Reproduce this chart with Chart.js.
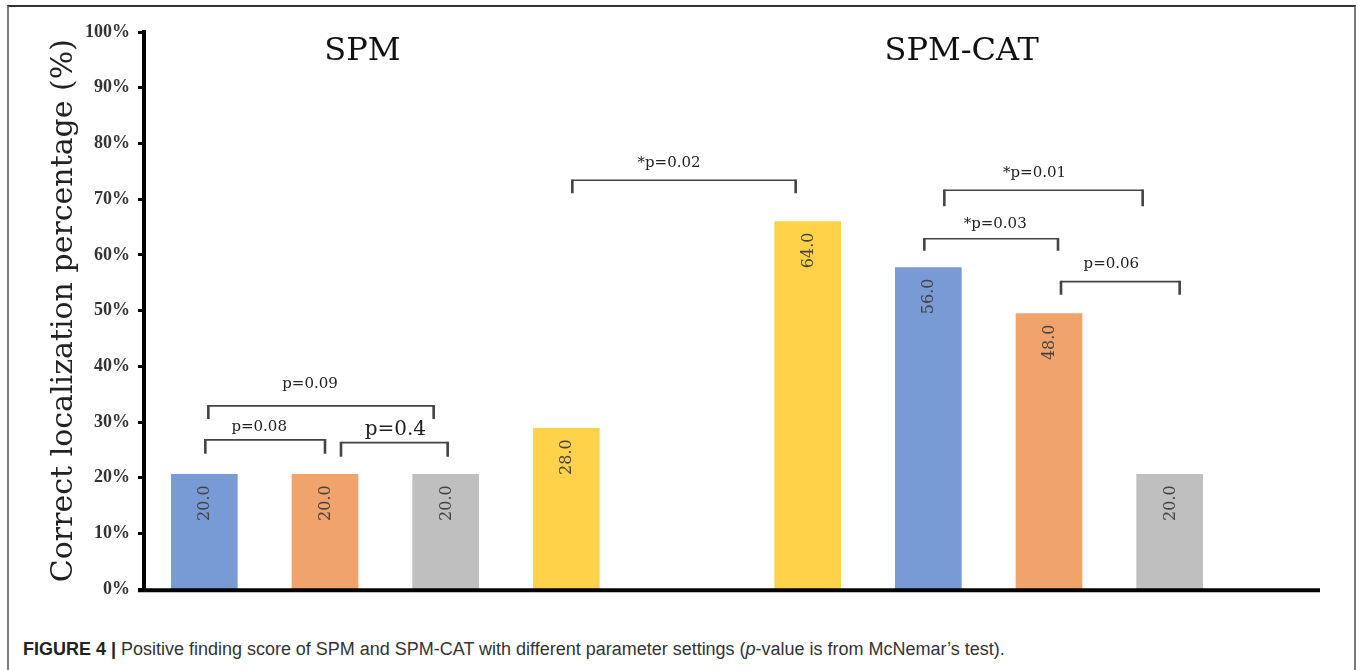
<!DOCTYPE html>
<html>
<head>
<meta charset="utf-8">
<script src="https://cdn.jsdelivr.net/npm/chart.js@4.4.1/dist/chart.umd.min.js"></script>
<style>
  html, body { margin: 0; padding: 0; background: #fff; width: 1357px; height: 670px; overflow: hidden; }
  #frame { position: absolute; left: 7px; top: 5px; width: 1345px; height: 720px; border: 2px solid #7a7a7a; border-top-color: #333; }
  #chart { position: absolute; left: 0; top: 0; }
  #caption { position: absolute; left: 23px; top: 639px; font: 18px 'Liberation Sans', Arial, sans-serif; color: #333; white-space: nowrap; transform-origin: 0 0; }
  #caption b { color: #222; }
</style>
</head>
<body>
<div id="frame"></div>
<canvas id="chart" width="1357" height="608"></canvas>
<div id="caption"><b>FIGURE 4 |</b> Positive finding score of SPM and SPM-CAT with different parameter settings (<i>p</i>-value is from McNemar’s test).</div>
<script>
// ---- data ----
// one slot per bar; the empty slot separates the SPM and SPM-CAT groups
const categories = ['SPM setting 1', 'SPM setting 2', 'SPM setting 3', 'SPM setting 4', '',
                    'SPM-CAT setting 4', 'SPM-CAT setting 1', 'SPM-CAT setting 2', 'SPM-CAT setting 3'];
const rates = [20.0, 20.0, 20.0, 28.0, null, 64.0, 56.0, 48.0, 20.0];
const yTicks = [0, 10, 20, 30, 40, 50, 60, 70, 80, 90, 100];
const groupTitles = ['SPM', 'SPM-CAT'];
const groupMembers = [[0, 1, 2, 3], [5, 6, 7, 8]];
const pairs = [[0, 1], [1, 2], [0, 2], [3, 5], [6, 8], [6, 7], [7, 8]];
const pValues = ['p=0.08', 'p=0.4', 'p=0.09', '*p=0.02', '*p=0.01', '*p=0.03', 'p=0.06'];

// ---- styling ----
const settingColors = { 1: '#789bd6', 2: '#f0a36b', 3: '#bfbfbf', 4: '#ffd24a' };
const barColors = [1, 2, 3, 4, 0, 4, 1, 2, 3].map(s => settingColors[s] || 'rgba(0,0,0,0)');
const groupTitleShift = [-23, -27];
// bracket geometry: height on the percent axis, end nudges, leg length, label rise/shift, font size
const bracketStyle = [
  { level: 26.8, dx: [1, 0],    drop: 14, rise: 13, tdx: -6,  size: 15 },
  { level: 26.3, dx: [16, 2],   drop: 14, rise: 13, tdx: 1,   size: 20 },
  { level: 32.9, dx: [4, -12],  drop: 13, rise: 22, tdx: -11, size: 15 },
  { level: 73.4, dx: [6, -12],  drop: 13, rise: 17, tdx: -15, size: 15 },
  { level: 71.6, dx: [16, -27], drop: 16, rise: 17, tdx: -9,  size: 15 },
  { level: 62.9, dx: [-4, 9],   drop: 12, rise: 15, tdx: 4,   size: 15 },
  { level: 55.2, dx: [12, 10],  drop: 13, rise: 18, tdx: -9,  size: 15 }
];

const overlay = {
  id: 'overlay',
  afterDatasetsDraw(chart) {
    const { ctx, chartArea, scales } = chart;
    const bars = chart.getDatasetMeta(0).data;
    ctx.save();

    // baseline
    ctx.strokeStyle = '#000';
    ctx.lineWidth = 4;
    ctx.beginPath();
    ctx.moveTo(chartArea.left - 6, chartArea.bottom + 1);
    ctx.lineTo(chartArea.right + 90, chartArea.bottom + 1);
    ctx.stroke();

    // values written inside the bars, reading upward
    ctx.fillStyle = '#444';
    ctx.font = '16px "DejaVu Serif"';
    ctx.textAlign = 'right';
    ctx.textBaseline = 'middle';
    rates.forEach((v, i) => {
      if (v === null) return;
      const b = bars[i];
      ctx.save();
      ctx.translate(b.x + 1, b.y + 11);
      ctx.rotate(-Math.PI / 2);
      ctx.fillText(v.toFixed(1), 0, 0);
      ctx.restore();
    });

    // group headings
    ctx.fillStyle = '#111';
    ctx.font = '32px "DejaVu Serif"';
    ctx.textAlign = 'center';
    groupTitles.forEach((t, g) => {
      const xs = groupMembers[g].map(i => bars[i].x);
      const cx = (Math.min(...xs) + Math.max(...xs)) / 2 + groupTitleShift[g];
      ctx.fillText(t, cx, chartArea.top + 20);
    });

    // McNemar comparison brackets
    const y = scales.y;
    pairs.forEach(([a, b], k) => {
      const s = bracketStyle[k];
      const x1 = bars[a].x + s.dx[0];
      const x2 = bars[b].x + s.dx[1];
      const yy = y.getPixelForValue(s.level);
      ctx.strokeStyle = '#444';
      ctx.lineWidth = 1.6;
      ctx.beginPath();
      ctx.moveTo(x1, yy); ctx.lineTo(x2, yy);
      ctx.stroke();
      ctx.lineWidth = 2.6;
      ctx.beginPath();
      ctx.moveTo(x1, yy - 0.8); ctx.lineTo(x1, yy + s.drop);
      ctx.moveTo(x2, yy - 0.8); ctx.lineTo(x2, yy + s.drop);
      ctx.stroke();
      ctx.fillStyle = '#222';
      ctx.font = s.size + 'px "DejaVu Serif"';
      ctx.textAlign = 'center';
      ctx.textBaseline = 'middle';
      ctx.fillText(pValues[k], (x1 + x2) / 2 + s.tdx, yy - s.rise);
    });
    ctx.restore();
  }
};

new Chart(document.getElementById('chart'), {
  type: 'bar',
  data: {
    labels: categories,
    datasets: [{
      data: rates,
      backgroundColor: barColors,
      yAxisID: 'yBar',
      barThickness: 66,
      borderWidth: 0
    }]
  },
  options: {
    responsive: false,
    animation: false,
    layout: { padding: { left: 10, right: 127, top: 32, bottom: 12 } },
    plugins: { legend: { display: false }, tooltip: { enabled: false } },
    scales: {
      x: { display: false },
      y: {
        position: 'left',
        min: 0,
        max: 100,
        afterFit(s) { s.width = 134; },
        afterBuildTicks(s) { s.ticks = yTicks.map(v => ({ value: v })); },
        border: { display: true, color: '#000', width: 4 },
        grid: { drawOnChartArea: false, drawTicks: true, tickLength: 6, color: '#000', lineWidth: 3 },
        ticks: {
          padding: 8,
          color: '#333',
          font: { family: 'Liberation Serif', size: 18, weight: 'bold' },
          callback: v => v + '%'
        },
        title: {
          display: true,
          text: 'Correct localization percentage (%)',
          color: '#222',
          font: { family: 'DejaVu Serif', size: 30 },
          padding: { top: 36, bottom: 0 }
        }
      },
      yBar: { display: false, min: 0, max: 97 }
    }
  },
  plugins: [overlay]
});

// caption spans the same width as the figure text block
const cap = document.getElementById('caption');
cap.style.transform = 'scaleX(' + (982 / cap.offsetWidth) + ')';
</script>
</body>
</html>
